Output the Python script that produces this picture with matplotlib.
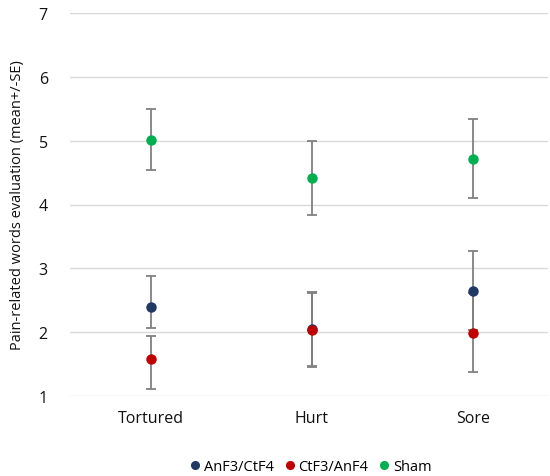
import matplotlib
matplotlib.use("Agg")
import matplotlib.pyplot as plt
import numpy as np

categories = ["Tortured", "Hurt", "Sore"]
series = ["AnF3/CtF4", "CtF3/AnF4", "Sham"]
colors = ["#203864", "#C00000", "#00B050"]
means = {
    "AnF3/CtF4": [2.40, 2.05, 2.65],
    "CtF3/AnF4": [1.58, 2.03, 1.99],
    "Sham": [5.01, 4.41, 4.72],
}
err_low = {
    "AnF3/CtF4": [0.34, 0.58, 0.62],
    "CtF3/AnF4": [0.47, 0.57, 0.62],
    "Sham": [0.47, 0.58, 0.62],
}
err_high = {
    "AnF3/CtF4": [0.48, 0.58, 0.62],
    "CtF3/AnF4": [0.36, 0.59, 0.62],
    "Sham": [0.49, 0.58, 0.62],
}
yticks = [1, 2, 3, 4, 5, 6, 7]

plt.rcParams['font.family'] = ['Open Sans', 'DejaVu Sans']
fig = plt.figure(figsize=(5.5, 4.77), dpi=100)
ax = fig.add_axes([70/550, 1-397/477, (548-70)/550, (397-14)/477])

x = np.arange(len(categories))
for s, c in zip(series, colors):
    ax.errorbar(x, means[s], yerr=[err_low[s], err_high[s]], fmt='none',
                ecolor="#808080", elinewidth=1.3, capsize=3.5, capthick=1.3, zorder=2)
for s, c in zip(series, colors):
    ax.plot(x, means[s], 'o', color=c, markersize=6.5, linestyle='none', label=s, zorder=3)

ax.set_xlim(-0.503, 2.466)
ax.set_ylim(1, 7)
ax.set_yticks(yticks)
ax.set_xticks(x)
ax.set_xticklabels(categories, fontsize=11.5, color="#111111")
ax.tick_params(axis='y', labelsize=11.5, length=0, pad=16, labelcolor="#111111")
ax.tick_params(axis='x', length=0, pad=10)
ax.grid(axis='y', color="#D9D9D9", linewidth=1)
ax.set_axisbelow(True)
for sp in ax.spines.values():
    sp.set_visible(False)
ax.set_ylabel("Pain-related words evaluation (mean+/-SE)", fontsize=10.5, labelpad=10,
              color="#111111")

ax.legend(loc='upper center', bbox_to_anchor=(0.5, -0.13), ncol=3, frameon=False,
          fontsize=10.5, handletextpad=0.0, columnspacing=0.5, markerscale=0.85,
          handlelength=1.2)

fig.savefig("out.png", dpi=100)
